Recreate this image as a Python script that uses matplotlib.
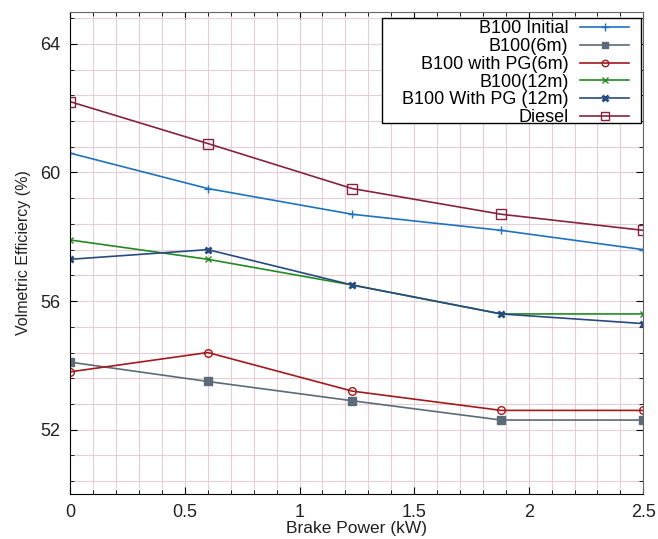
import matplotlib.pyplot as plt
from matplotlib.patches import Rectangle
from matplotlib.ticker import MultipleLocator

plt.rcParams['font.family'] = ['Liberation Sans', 'DejaVu Sans']

power = [0, 0.6, 1.23, 1.88, 2.5]
b100_initial = [60.6, 59.5, 58.7, 58.2, 57.6]
b100_6m = [54.1, 53.5, 52.9, 52.3, 52.3]
b100_pg_6m = [53.8, 54.4, 53.2, 52.6, 52.6]
b100_12m = [57.9, 57.3, 56.5, 55.6, 55.6]
b100_pg_12m = [57.3, 57.6, 56.5, 55.6, 55.3]
diesel = [62.2, 60.9, 59.5, 58.7, 58.2]

fig = plt.figure(figsize=(6.58, 5.39), dpi=100)
ax = fig.add_axes([70.3/658, 45/539, 573/658, 482.3/539])

ax.plot(power, b100_initial, color='#1f72c0', marker='+', ms=6, lw=1.2, label='B100 Initial')
ax.plot(power, b100_6m, color='#5b6b78', marker='s', ms=5.5, lw=1.2, label='B100(6m)')
ax.plot(power, b100_pg_6m, color='#a3191c', marker='o', ms=5.5, mfc='none', lw=1.2, label='B100 with PG(6m)')
ax.plot(power, b100_12m, color='#238a22', marker='x', ms=5, lw=1.2, label='B100(12m)')
ax.plot(power, b100_pg_12m, color='#274b80', marker='x', ms=5, mew=2, lw=1.2, label='B100 With PG (12m)')
ax.plot(power, diesel, color='#87223f', marker='s', ms=6.5, mfc='none', lw=1.2, label='Diesel')

ax.set_xlim(0, 2.5)
ax.set_ylim(50, 65)
ax.xaxis.set_major_locator(MultipleLocator(0.5))
ax.xaxis.set_minor_locator(MultipleLocator(0.1))
ax.xaxis.set_major_formatter(plt.FuncFormatter(lambda v, p: ('%g' % round(v, 2))))
ax.yaxis.set_major_locator(MultipleLocator(4))
ax.yaxis.set_minor_locator(MultipleLocator(0.8))
ax.grid(which='both', color='#e6cdd6', lw=0.8)
ax.set_axisbelow(True)
ax.tick_params(which='both', direction='in', top=True, right=True, labelsize=13, labelcolor='#222222')
ax.tick_params(which='major', length=5)
ax.tick_params(which='minor', length=3)
ax.tick_params(axis='x', pad=7)
ax.tick_params(axis='y', pad=7)
ax.spines['top'].set_color('#666666')
ax.spines['right'].set_color('#666666')

ax.set_xlabel('Brake Power (kW)', fontsize=12.5, labelpad=0, color='#222222')
ax.set_ylabel('Volmetric Efficiercy (%)', fontsize=11.5, labelpad=7, color='#222222')

# legend box drawn separately so the padding matches
ax.add_patch(Rectangle((0.544, 0.769), 0.452, 0.217, transform=ax.transAxes,
                       facecolor='white', edgecolor='black', lw=1.0, zorder=4.5))
leg = ax.legend(loc='upper right', bbox_to_anchor=(0.975, 0.982), markerfirst=False,
                fontsize=13, frameon=False, borderaxespad=0, borderpad=0,
                labelspacing=0.04, handlelength=2.7, handletextpad=0.65, markerscale=0.85)
leg.set_zorder(5)

plt.savefig('out.png')
